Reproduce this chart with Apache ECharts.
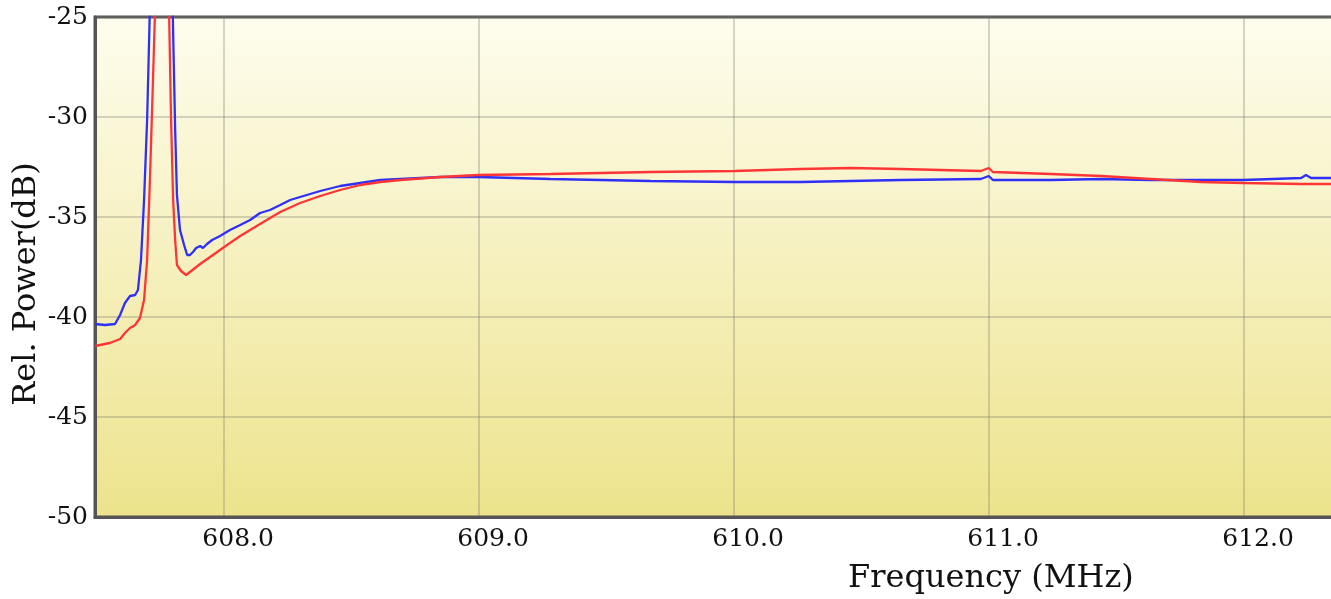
<!DOCTYPE html>
<html>
<head>
<meta charset="utf-8">
<script src="https://cdn.jsdelivr.net/npm/echarts@6/dist/echarts.min.js"></script>
<style>
html,body{margin:0;padding:0;background:#fff;}
#chart{width:1331px;height:599px;}
</style>
</head>
<body>
<div id="chart"></div>
<script>
// Frequencies (MHz) and relative power (dB)
const blueFreq = [607.494,607.533,607.572,607.592,607.611,607.631,607.651,607.662,607.674,607.686,607.698,607.709,607.717,607.753,607.790,607.798,607.808,607.815,607.827,607.843,607.855,607.866,607.878,607.890,607.906,607.917,607.933,607.953,607.984,608.023,608.063,608.102,608.141,608.180,608.220,608.259,608.298,608.377,608.455,608.534,608.612,608.691,608.848,608.997,609.280,609.672,610.002,610.261,610.654,610.968,610.999,611.015,611.242,611.439,611.635,612.000,612.224,612.243,612.263,612.353,612.400];
const bluePower = [-40.35,-40.4,-40.35,-39.9,-39.3,-38.95,-38.9,-38.65,-37.15,-34.15,-30.15,-24.5,-20,-12,-19,-24.5,-30.65,-33.9,-35.65,-36.4,-36.9,-36.9,-36.75,-36.55,-36.45,-36.55,-36.35,-36.15,-35.95,-35.65,-35.4,-35.15,-34.8,-34.65,-34.4,-34.15,-34.0,-33.7,-33.45,-33.3,-33.15,-33.1,-33.0,-33.0,-33.1,-33.2,-33.25,-33.25,-33.15,-33.1,-32.95,-33.15,-33.15,-33.1,-33.15,-33.15,-33.05,-32.9,-33.05,-33.05,-33.05];

const redFreq = [607.494,607.552,607.592,607.611,607.631,607.651,607.670,607.686,607.698,607.709,607.721,607.729,607.737,607.757,607.776,607.784,607.792,607.800,607.808,607.815,607.831,607.851,607.866,607.886,607.906,607.945,607.984,608.023,608.063,608.141,608.220,608.298,608.377,608.455,608.534,608.612,608.691,608.848,608.997,609.280,609.672,610.002,610.261,610.457,610.654,610.968,610.999,611.015,611.242,611.439,611.635,611.831,612.000,612.224,612.353,612.400];
const redPower = [-41.45,-41.3,-41.1,-40.8,-40.55,-40.4,-40.05,-39.15,-37.15,-33.15,-28.15,-24.7,-20,-14,-20,-24.7,-30.15,-34.15,-36.15,-37.4,-37.7,-37.9,-37.75,-37.55,-37.35,-37.0,-36.65,-36.3,-35.95,-35.35,-34.75,-34.3,-33.95,-33.65,-33.4,-33.25,-33.15,-33.0,-32.9,-32.85,-32.75,-32.7,-32.6,-32.55,-32.6,-32.7,-32.55,-32.75,-32.85,-32.95,-33.1,-33.25,-33.3,-33.35,-33.35,-33.35];

const xTicks = [608, 609, 610, 611, 612];

const zip = (a, b) => a.map((v, i) => [v, b[i]]);

const chart = echarts.init(document.getElementById('chart'), null, {renderer: 'canvas'});
const FONT = 'DejaVu Serif';
chart.setOption({
  animation: false,
  grid: {
    left: 95, top: 17, right: -15, bottom: 82,
    outerBoundsMode: 'none',
    containLabel: false,
    show: true,
    borderColor: '#555555',
    borderWidth: 3,
    backgroundColor: new echarts.graphic.LinearGradient(0, 0, 0, 1, [
      {offset: 0, color: '#fefdee'},
      {offset: 1, color: '#ede38c'}
    ])
  },
  xAxis: {
    type: 'value',
    min: 607.4936,
    max: 612.4,
    axisLine: {show: true, lineStyle: {color: '#555555', width: 3}},
    axisTick: {show: false, customValues: xTicks},
    axisLabel: {
      customValues: xTicks,
      formatter: v => v.toFixed(1),
      color: '#111', fontFamily: FONT, fontSize: 25, margin: 10,
      padding: [0, 0, 0, 28]
    },
    splitLine: {show: true, lineStyle: {color: 'rgba(120,120,110,0.3)', width: 2}}
  },
  yAxis: {
    type: 'value',
    min: -50, max: -25, interval: 5,
    axisLine: {show: true, lineStyle: {color: '#555555', width: 3}},
    axisTick: {show: false},
    axisLabel: {color: '#111', fontFamily: FONT, fontSize: 25, margin: 7},
    splitLine: {show: true, lineStyle: {color: 'rgba(120,120,110,0.3)', width: 2}}
  },
  graphic: [{
    type: 'text',
    x: 848, y: 579,
    style: {text: 'Frequency (MHz)', fill: '#111', font: '32px "DejaVu Serif"', align: 'left', verticalAlign: 'middle'}
  }, {
    type: 'text',
    x: 27, y: 284,
    rotation: Math.PI / 2,
    style: {text: 'Rel. Power(dB)', fill: '#111', font: '32px "DejaVu Serif"', align: 'center', verticalAlign: 'middle'}
  }],
  series: [
    {
      type: 'line', data: zip(blueFreq, bluePower), showSymbol: false, symbol: 'none',
      lineStyle: {color: '#2f2ff8', width: 2.3}, clip: true, z: 3
    },
    {
      type: 'line', data: zip(redFreq, redPower), showSymbol: false, symbol: 'none',
      lineStyle: {color: '#ff3535', width: 2.3}, clip: true, z: 4
    }
  ]
});
</script>
</body>
</html>
